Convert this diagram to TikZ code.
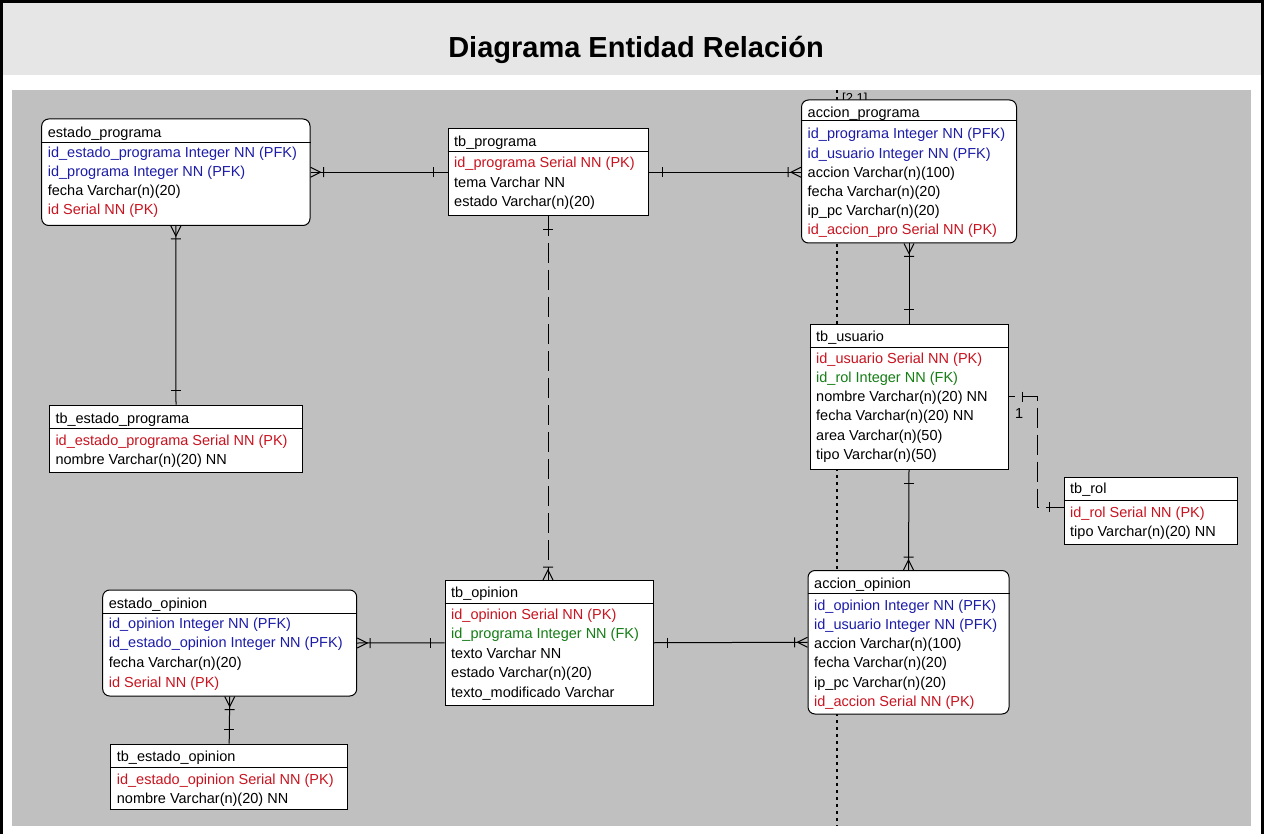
\documentclass[tikz,border=0pt]{standalone}
\usepackage{fontspec}
\setmainfont{Liberation Sans}
\usetikzlibrary{fit,calc}

\definecolor{pkred}{RGB}{200,20,32}
\definecolor{pfkblue}{RGB}{28,28,168}
\definecolor{fkgreen}{RGB}{20,125,20}
\definecolor{diagray}{RGB}{192,192,192}
\definecolor{titlegray}{RGB}{230,230,230}

% header line and table name
\newcommand\erhead[5]{% node, left x, separator y, name y, name
  \draw[line width=1pt] (#1.west |- 0,#3) -- (#1.east |- 0,#3);
  \node[rowtxt] (#1-h) at ({#2+6},{#4+5}) {#5};
}
% attribute rows: colour/text pairs
\newcommand\errows[5]{% node, left x, first row y, row pitch, list
  \foreach[count=\i] \c/\t in {#5}{%
    \pgfmathsetmacro\yy{#3+(\i-1)*#4+5}%
    \node[rowtxt, text=\c] (#1-\i) at ({#2+6},\yy) {\t};
  }%
}

\begin{document}
\begin{tikzpicture}[x=1pt,y=-1pt,
  tblbox/.style={draw=black, fill=white, line width=1pt, inner sep=0pt},
  depbox/.style={tblbox, rounded corners=7pt},
  rowtxt/.style={anchor=base west, inner sep=0pt, font=\fontsize{14.5}{17}\selectfont},
  rel/.style={draw=black, line width=1pt},
  nonident/.style={rel, dash pattern=on 20pt off 7pt},
  many/.pic={\draw[line width=1pt] (0,-5) -- (10,0) -- (0,5) (13,-5) -- (13,5);},
  one/.pic={\draw[line width=1pt] (14,-5) -- (14,5);},
]
\useasboundingbox (0,0) rectangle (1266,834);

% frame, title band and drawing area
\fill[white] (0,0) rectangle (1266,834);
\fill[titlegray] (2,2) rectangle (1263,75);
\fill[diagray] (12,90) rectangle (1251,826);
\draw[line width=3pt] (1.5,834) -- (1.5,1.5) -- (1262.5,1.5) -- (1262.5,834);
\node[anchor=base, inner sep=0pt, font=\fontsize{29}{34}\selectfont\bfseries] (title) at (636,58) {Diagrama Entidad Relación};

% page break line and page label
\draw[line width=1.2pt, dash pattern=on 3pt off 4pt] (837,90) -- (837,826);
\node[rowtxt, font=\fontsize{13}{15}\selectfont] (pg) at (842,103) {[2.1]};

% tables
\node[depbox, fit={(41.7,119) (310,225.5)}] (ep) {};
\erhead{ep}{41.7}{142.5}{133}{estado\_programa}
\errows{ep}{41.7}{153}{19}{pfkblue/id\_estado\_programa Integer NN (PFK), pfkblue/id\_programa Integer NN (PFK), black/fecha Varchar(n)(20), pkred/id Serial NN (PK)}

\node[tblbox, fit={(448,129) (648,215.5)}] (tp) {};
\erhead{tp}{448}{152}{142}{tb\_programa}
\errows{tp}{448}{163}{19.5}{pkred/id\_programa Serial NN (PK), black/tema Varchar NN, black/estado Varchar(n)(20)}

\node[depbox, fit={(801.5,100) (1016.5,243)}] (ap) {};
\erhead{ap}{801.5}{120.5}{113}{accion\_programa}
\errows{ap}{801.5}{134}{19.2}{pfkblue/id\_programa Integer NN (PFK), pfkblue/id\_usuario Integer NN (PFK), black/accion Varchar(n)(100), black/fecha Varchar(n)(20), black/ip\_pc Varchar(n)(20), pkred/id\_accion\_pro Serial NN (PK)}

\node[tblbox, fit={(810,324) (1008,469)}] (tu) {};
\erhead{tu}{810}{347}{336.5}{tb\_usuario}
\errows{tu}{810}{358}{19.3}{pkred/id\_usuario Serial NN (PK), fkgreen/id\_rol Integer NN (FK), black/nombre Varchar(n)(20) NN, black/fecha Varchar(n)(20) NN, black/area Varchar(n)(50), black/tipo Varchar(n)(50)}

\node[tblbox, fit={(1064,477) (1237,544)}] (tr) {};
\erhead{tr}{1064}{500.5}{488}{tb\_rol}
\errows{tr}{1064}{512}{19}{pkred/id\_rol Serial NN (PK), black/tipo Varchar(n)(20) NN}

\node[tblbox, fit={(49.3,405) (302.7,472)}] (tep) {};
\erhead{tep}{49.3}{428}{418}{tb\_estado\_programa}
\errows{tep}{49.3}{440}{19.3}{pkred/id\_estado\_programa Serial NN (PK), black/nombre Varchar(n)(20) NN}

\node[tblbox, fit={(445,580.5) (653,705)}] (to) {};
\erhead{to}{445}{603}{592}{tb\_opinion}
\errows{to}{445}{614}{19.5}{pkred/id\_opinion Serial NN (PK), fkgreen/id\_programa Integer NN (FK), black/texto Varchar NN, black/estado Varchar(n)(20), black/texto\_modificado Varchar}

\node[depbox, fit={(808,570.5) (1009,714)}] (ao) {};
\erhead{ao}{808}{593}{583}{accion\_opinion}
\errows{ao}{808}{605}{19.3}{pfkblue/id\_opinion Integer NN (PFK), pfkblue/id\_usuario Integer NN (PFK), black/accion Varchar(n)(100), black/fecha Varchar(n)(20), black/ip\_pc Varchar(n)(20), pkred/id\_accion Serial NN (PK)}

\node[depbox, fit={(102.7,590) (356.7,696)}] (eo) {};
\erhead{eo}{102.7}{613}{603}{estado\_opinion}
\errows{eo}{102.7}{623}{19.67}{pfkblue/id\_opinion Integer NN (PFK), pfkblue/id\_estado\_opinion Integer NN (PFK), black/fecha Varchar(n)(20), pkred/id Serial NN (PK)}

\node[tblbox, fit={(110.7,744) (347.7,809)}] (teo) {};
\erhead{teo}{110.7}{767.5}{756}{tb\_estado\_opinion}
\errows{teo}{110.7}{779}{19}{pkred/id\_estado\_opinion Serial NN (PK), black/nombre Varchar(n)(20) NN}

% relationships
\draw[rel] (ep.east) -- (tp.west);
\pic at (ep.east) {many}; \pic[rotate=180] at (tp.west) {one};

\coordinate (ap-in) at (tp.east -| ap.west);
\draw[rel] (tp.east) -- (ap-in);
\pic at (tp.east) {one}; \pic[rotate=180] at (ap-in) {many};

\draw[rel] (ep.south) -- (tep.north);
\pic[rotate=-90] at (ep.south) {many}; \pic[rotate=90] at (tep.north) {one};

\coordinate (to-in) at (tp.south |- to.north);
\draw[nonident] (tp.south) -- (to-in);
\pic[rotate=-90] at (tp.south) {one}; \pic[rotate=90] at (to-in) {many};

\draw[rel] (ap.south) -- (tu.north);
\pic[rotate=-90] at (ap.south) {many}; \pic[rotate=90] at (tu.north) {one};

\draw[rel] (tu.south) -- (ao.north);
\pic[rotate=-90] at (tu.south) {one}; \pic[rotate=90] at (ao.north) {many};

\draw[rel] (to.east) -- (ao.west);
\pic at (to.east) {one}; \pic[rotate=180] at (ao.west) {many};

\draw[rel] (eo.east) -- (to.west);
\pic at (eo.east) {many}; \pic[rotate=180] at (to.west) {one};

\draw[rel] (eo.south) -- (teo.north);
\pic[rotate=-90] at (eo.south) {many}; \pic[rotate=90] at (teo.north) {one};

\coordinate (tu-bend) at ($(tu.east)+(29,0)$);
\coordinate (tr-in) at ($(tr.west)+(0,-3.5)$);
\draw[nonident, dash phase=14pt] (tu.east) -- (tu-bend) |- (tr-in);
\pic at (tu.east) {one}; \pic[rotate=180] at (tr-in) {one};
\node[rowtxt] (card) at (1015,418) {1};
\end{tikzpicture}
\end{document}
